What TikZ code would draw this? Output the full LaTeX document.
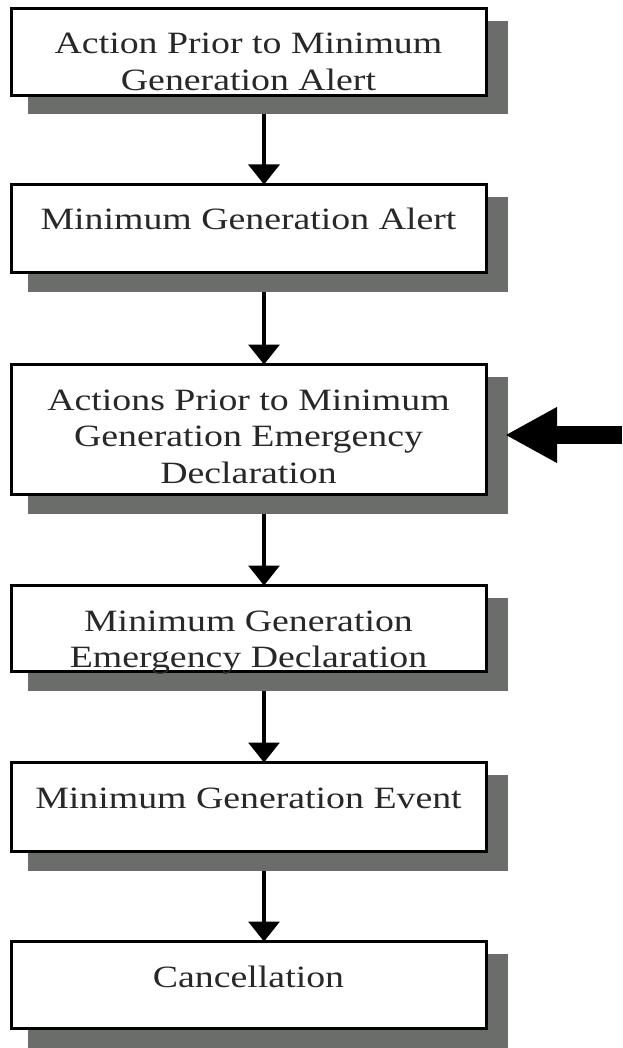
\documentclass[tikz,border=0pt]{standalone}
\usepackage{fontspec}
\setmainfont{Liberation Serif}[FakeStretch=1.22]
\usetikzlibrary{arrows.meta,calc}
\pgfdeclarelayer{bg}
\pgfdeclarelayer{shade}
\pgfsetlayers{bg,shade,main}
\definecolor{shadowgray}{RGB}{107,109,106}
\definecolor{txtgray}{RGB}{40,40,40}
\newcommand{\boxtext}[2]{\parbox[c][#1pt][t]{470pt}{\centering\rule{0pt}{45.5pt}#2}}
\begin{document}
\begin{tikzpicture}[x=1pt,y=-1pt,
  stepbox/.style={draw=black, line width=3pt, fill=white, inner sep=0pt, outer sep=0pt,
    minimum width=475pt, text=txtgray, font=\fontsize{31}{36.5}\selectfont},
  conn/.style={draw=black, line width=3.5pt, -{Triangle[length=20pt,width=31pt]}},
  bigarrow/.style={draw=black, line width=18pt, -{Triangle[length=52pt,width=52pt]}},
  shadowfill/.style={fill=shadowgray}
]
\useasboundingbox (0,0) rectangle (622,1048);
\node[stepbox] (b1) at (248.5,52) {\boxtext{87}{Action Prior to Minimum\\Generation Alert}};
\node[stepbox] (b2) at (248.5,228.5) {\boxtext{88}{Minimum Generation Alert}};
\node[stepbox] (b3) at (248.5,429.5) {\boxtext{130}{Actions Prior to Minimum\\Generation Emergency\\Declaration}};
\node[stepbox] (b4) at (248.5,628.5) {\boxtext{86}{Minimum Generation\\Emergency Declaration}};
\node[stepbox] (b5) at (248.5,807) {\boxtext{89}{Minimum Generation Event}};
\node[stepbox] (b6) at (248.5,985) {\boxtext{87}{Cancellation}};
\coordinate (src) at (622,435);
\coordinate (tip) at (505,435);
\begin{pgfonlayer}{shade}
\foreach \b in {b1,b2,b3,b4,b5,b6}
  \fill[shadowfill] ($(\b.north west)+(17,12.5)$) rectangle ($(\b.south east)+(22,19)$);
\end{pgfonlayer}
\begin{pgfonlayer}{bg}
\draw[conn] ([xshift=15.5pt]b1.south) -- ([xshift=15.5pt]b2.north);
\draw[conn] ([xshift=15.5pt]b2.south) -- ([xshift=15.5pt]b3.north);
\draw[conn] ([xshift=15.5pt]b3.south) -- ([xshift=15.5pt]b4.north);
\draw[conn] ([xshift=15.5pt]b4.south) -- ([xshift=15.5pt]b5.north);
\draw[conn] ([xshift=15.5pt]b5.south) -- ([xshift=15.5pt]b6.north);
\end{pgfonlayer}
\draw[bigarrow] (src) -- (tip);
\end{tikzpicture}
\end{document}
